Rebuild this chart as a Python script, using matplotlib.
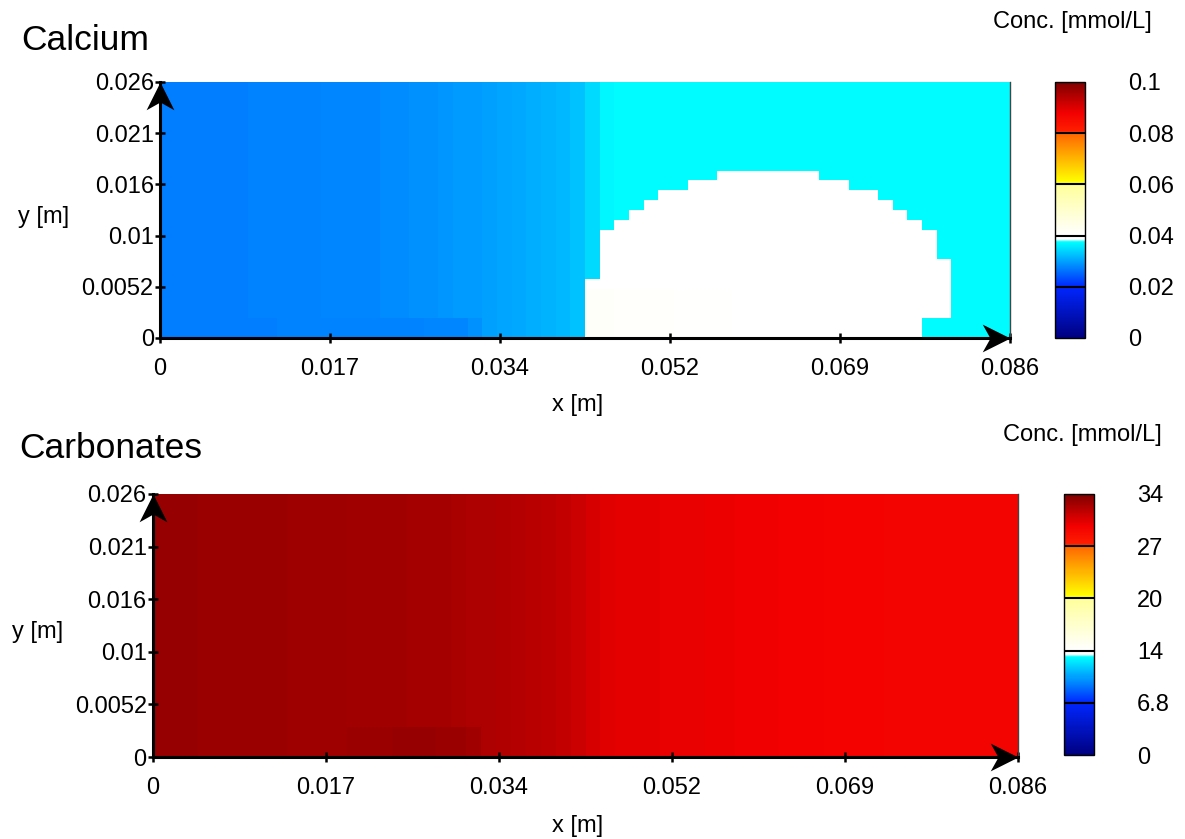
import numpy as np
import matplotlib
matplotlib.use("Agg")
import matplotlib.pyplot as plt
from matplotlib.colors import LinearSegmentedColormap
from matplotlib.path import Path

plt.rcParams['font.family'] = ['Liberation Sans', 'DejaVu Sans']

# domain (m)
x_len = 0.086
y_len = 0.026
n_cols = 58
n_rows = 26

x_tick_labels = ["0", "0.017", "0.034", "0.052", "0.069", "0.086"]
y_tick_labels = ["0", "0.0052", "0.01", "0.016", "0.021", "0.026"]

# Calcium, mmol/L, value per column (upper rows / bottom rows)
ca_upper = [0.0272, 0.0272, 0.0272, 0.0272, 0.0273, 0.0273, 0.0274, 0.0274, 0.0275, 0.0276,
            0.0277, 0.0278, 0.0279, 0.0280, 0.0281, 0.0283, 0.0285, 0.0287, 0.0289, 0.0291,
            0.0293, 0.0296, 0.0299, 0.0302, 0.0305, 0.0309, 0.0314, 0.0319, 0.0326, 0.0345,
            0.0368, 0.0372, 0.0373, 0.0373, 0.0373, 0.0373, 0.0373, 0.0373, 0.0373, 0.0373,
            0.0373, 0.0373, 0.0373, 0.0373, 0.0373, 0.0373, 0.0373, 0.0373, 0.0373, 0.0373,
            0.0373, 0.0373, 0.0373, 0.0373, 0.0373, 0.0373, 0.0373, 0.0373]
ca_lower = [0.0271, 0.0271, 0.0271, 0.0271, 0.0272, 0.0272, 0.0273, 0.0273, 0.0274, 0.0274,
            0.0275, 0.0275, 0.0275, 0.0275, 0.0276, 0.0276, 0.0277, 0.0277, 0.0278, 0.0279,
            0.0281, 0.0288, 0.0299, 0.0302, 0.0305, 0.0309, 0.0314, 0.0319, 0.0326, 0.0345,
            0.0373, 0.0373, 0.0373, 0.0373, 0.0373, 0.0373, 0.0373, 0.0373, 0.0373, 0.0373,
            0.0373, 0.0373, 0.0373, 0.0373, 0.0373, 0.0373, 0.0373, 0.0373, 0.0373, 0.0373,
            0.0373, 0.0373, 0.0373, 0.0373, 0.0373, 0.0373, 0.0373, 0.0373]

# high-calcium zone (columns 29..53): top / bottom row index, values
blob_first_col = 29
blob_top = [6, 11, 12, 13, 14, 15, 15, 16, 16, 17, 17, 17, 17, 17, 17, 17, 16, 16, 15, 15, 14, 13, 12, 11, 8]
blob_bottom = [0, 0, 0, 0, 0, 0, 0, 0, 0, 0, 0, 0, 0, 0, 0, 0, 0, 0, 0, 0, 0, 0, 0, 2, 2]
blob_low_val = [0.0412, 0.0411, 0.0410, 0.0409, 0.0408, 0.0407, 0.0406, 0.0405, 0.0404, 0.0403,
                0.0402, 0.0402, 0.0401, 0.0401, 0.0401, 0.0400, 0.0400, 0.0400, 0.0400, 0.0400,
                0.0400, 0.0400, 0.0400, 0.0400, 0.0400]
blob_high_val = 0.0399

# Carbonates, mmol/L
co3_upper = [33.1, 33.1, 33.1, 33.05, 33.05, 33.0, 33.0, 33.0, 32.95, 32.9,
             32.9, 32.85, 32.85, 32.8, 32.8, 32.75, 32.7, 32.65, 32.6, 32.55,
             32.5, 32.4, 32.3, 32.2, 32.1, 32.0, 31.8, 31.6, 31.3, 30.9,
             30.5, 30.4, 30.35, 30.3, 30.25, 30.2, 30.15, 30.1, 30.05, 30.0,
             29.95, 29.9, 29.85, 29.8, 29.75, 29.7, 29.7, 29.65, 29.65, 29.6,
             29.6, 29.6, 29.6, 29.6, 29.6, 29.6, 29.6, 29.6]
co3_lower = [33.1, 33.1, 33.1, 33.05, 33.05, 33.0, 33.0, 33.0, 32.95, 32.9,
             32.9, 32.85, 32.9, 32.95, 33.0, 33.05, 33.1, 33.1, 33.1, 33.05,
             33.0, 32.8, 32.4, 32.2, 32.1, 32.0, 31.8, 31.6, 31.3, 30.9,
             30.5, 30.4, 30.35, 30.3, 30.25, 30.2, 30.15, 30.1, 30.05, 30.0,
             29.95, 29.9, 29.85, 29.8, 29.75, 29.7, 29.7, 29.65, 29.65, 29.6,
             29.6, 29.6, 29.6, 29.6, 29.6, 29.6, 29.6, 29.6]

ca_cbar_ticks = [0, 0.02, 0.04, 0.06, 0.08, 0.1]
ca_cbar_labels = ["0", "0.02", "0.04", "0.06", "0.08", "0.1"]
co3_cbar_ticks = [0, 6.8, 13.6, 20.4, 27.2, 34]
co3_cbar_labels = ["0", "6.8", "14", "20", "27", "34"]

cmap = LinearSegmentedColormap.from_list("conc", [
    (0.00, (0.0, 0.0, 0.5)),
    (0.20, (0.0, 0.15, 1.0)),
    (0.375, (0.0, 1.0, 1.0)),
    (0.385, (1.0, 1.0, 1.0)),
    (0.40, (1.0, 1.0, 1.0)),
    (0.60, (1.0, 1.0, 0.6)),
    (0.61, (1.0, 1.0, 0.0)),
    (0.80, (1.0, 0.4, 0.0)),
    (0.81, (1.0, 0.12, 0.0)),
    (0.88, (0.95, 0.0, 0.0)),
    (1.00, (0.5, 0.0, 0.0)),
])

# calcium field
ca = np.tile(np.array(ca_upper), (n_rows, 1))
ca[0:2, :] = ca_lower
for k in range(len(blob_top)):
    j = blob_first_col + k
    ca[blob_bottom[k]:blob_top[k], j] = blob_high_val
    lo = min(5, blob_top[k])
    if blob_bottom[k] < lo:
        ca[blob_bottom[k]:lo, j] = blob_low_val[k]

co3 = np.tile(np.array(co3_upper), (n_rows, 1))
co3[0:3, :] = co3_lower

up_arrow = Path([(0, 0), (0.5, -1), (0, -0.72), (-0.5, -1), (0, 0)],
                [Path.MOVETO, Path.LINETO, Path.LINETO, Path.LINETO, Path.CLOSEPOLY])
right_arrow = Path([(0, 0), (-1, 0.5), (-0.72, 0), (-1, -0.5), (0, 0)],
                   [Path.MOVETO, Path.LINETO, Path.LINETO, Path.LINETO, Path.CLOSEPOLY])

W, H = 1185, 839
fig = plt.figure(figsize=(W / 100, H / 100), dpi=100)


def px_rect(left, top, right, bottom):
    return [left / W, 1 - bottom / H, (right - left) / W, (bottom - top) / H]


def draw_panel(field, vmax, ax_box, cb_box, cb_ticks, cb_labels):
    ax = fig.add_axes(px_rect(*ax_box))
    xe = np.linspace(0, x_len, n_cols + 1)
    ye = np.linspace(0, y_len, n_rows + 1)
    mesh = ax.pcolormesh(xe, ye, field, cmap=cmap, vmin=0, vmax=vmax, shading='flat')
    ax.set_xlim(0, x_len)
    ax.set_ylim(0, y_len)
    ax.set_xticks(np.linspace(0, x_len, 6))
    ax.set_xticklabels(x_tick_labels)
    ax.set_yticks(np.linspace(0, y_len, 6))
    ax.set_yticklabels(y_tick_labels)
    ax.tick_params(direction='inout', length=7, width=1.8, labelsize=17)
    ax.tick_params(axis='x', pad=11)
    ax.tick_params(axis='y', pad=1)
    ax.spines['top'].set_visible(False)
    ax.spines['right'].set_color('#444444')
    ax.spines['right'].set_linewidth(1)
    for s in ['left', 'bottom']:
        ax.spines[s].set_linewidth(2.2)
    ax.plot([0], [y_len], marker=up_arrow, ms=40, mew=0, color='k', clip_on=False, zorder=6)
    ax.plot([x_len], [0], marker=right_arrow, ms=40, mew=0, color='k', clip_on=False, zorder=6)

    cax = fig.add_axes(px_rect(*cb_box))
    cb = fig.colorbar(mesh, cax=cax)
    cb.set_ticks(cb_ticks)
    cb.set_ticklabels(cb_labels)
    cb.ax.tick_params(length=0, pad=31, labelsize=17)
    for t in cb.ax.get_yticklabels():
        t.set_va('center_baseline')
    cb.outline.set_linewidth(1)
    for v in cb_ticks[1:-1]:
        cax.axhline(v, color='k', lw=1.5)
    return ax


draw_panel(ca, 0.1, (160, 82, 1010, 338), (1055, 82, 1085, 338), ca_cbar_ticks, ca_cbar_labels)
draw_panel(co3, 34, (153, 494, 1018, 757), (1064, 494, 1094, 755), co3_cbar_ticks, co3_cbar_labels)

fig.text(21 / W, 1 - 50 / H, "Calcium", fontsize=25.5, va='baseline', ha='left')
fig.text(19 / W, 1 - 458 / H, "Carbonates", fontsize=25.5, va='baseline', ha='left')
fig.text(1152 / W, 1 - 28 / H, "Conc. [mmol/L]", fontsize=17, va='baseline', ha='right')
fig.text(1162 / W, 1 - 441 / H, "Conc. [mmol/L]", fontsize=17, va='baseline', ha='right')
fig.text(578 / W, 1 - 405 / H, "x [m]", fontsize=17, va='center', ha='center')
fig.text(578 / W, 1 - 826 / H, "x [m]", fontsize=17, va='center', ha='center')
fig.text(44 / W, 1 - 217 / H, "y [m]", fontsize=17, va='center', ha='center')
fig.text(38 / W, 1 - 632 / H, "y [m]", fontsize=17, va='center', ha='center')

fig.savefig("out.png", dpi=100)
